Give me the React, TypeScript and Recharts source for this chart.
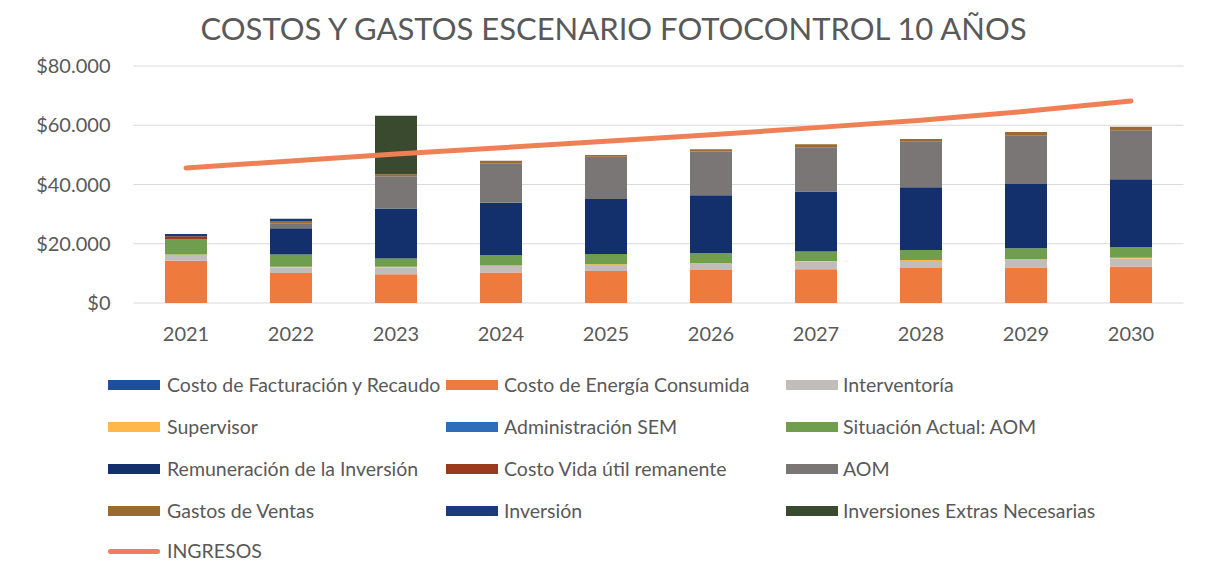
import React from 'react';
import { ComposedChart, Bar, Line, XAxis, YAxis, CartesianGrid, Legend } from 'recharts';

const years = ['2021', '2022', '2023', '2024', '2025', '2026', '2027', '2028', '2029', '2030'];
const costoFacturacion = [0, 0, 0, 0, 0, 0, 0, 0, 0, 0];
const costoEnergia = [14300, 10100, 9700, 10300, 10800, 11100, 11400, 11800, 12000, 12300];
const interventoria = [1900, 1900, 2300, 2200, 2000, 2100, 2500, 2400, 2500, 2700];
const supervisor = [200, 200, 200, 200, 300, 300, 300, 300, 300, 300];
const administracionSEM = [0, 0, 0, 0, 0, 0, 0, 0, 0, 0];
const situacionActual = [5000, 4200, 2800, 3400, 3400, 3400, 3200, 3400, 3700, 3600];
const remuneracion = [0, 8800, 16900, 17700, 18600, 19500, 20200, 21200, 21700, 22900];
const costoVidaUtil = [1100, 0, 0, 0, 0, 0, 0, 0, 0, 0];
const aom = [0, 1700, 10900, 13400, 14300, 14700, 15000, 15300, 16400, 16500];
const gastosVentas = [0, 800, 700, 800, 600, 800, 1000, 1000, 1100, 1200];
const inversion = [800, 700, 0, 0, 0, 0, 0, 0, 0, 0];
const inversionesExtras = [0, 0, 19700, 0, 0, 0, 0, 0, 0, 0];
const ingresos = [45600, 47900, 50300, 52400, 54600, 56800, 59200, 61700, 64700, 68200];
const yTicks = [0, 20000, 40000, 60000, 80000];

const barSeries = [
  { key: 'costoFacturacion', name: 'Costo de Facturación y Recaudo', color: '#1F4E9E', values: costoFacturacion },
  { key: 'costoEnergia', name: 'Costo de Energía Consumida', color: '#EE7A3E', values: costoEnergia },
  { key: 'interventoria', name: 'Interventoría', color: '#C2BDBD', values: interventoria },
  { key: 'supervisor', name: 'Supervisor', color: '#FDB849', values: supervisor },
  { key: 'administracionSEM', name: 'Administración SEM', color: '#2E6DB8', values: administracionSEM },
  { key: 'situacionActual', name: 'Situación Actual: AOM', color: '#6E9E4E', values: situacionActual },
  { key: 'remuneracion', name: 'Remuneración de la Inversión', color: '#14306C', values: remuneracion },
  { key: 'costoVidaUtil', name: 'Costo Vida útil remanente', color: '#9A3B1E', values: costoVidaUtil },
  { key: 'aom', name: 'AOM', color: '#7A7676', values: aom },
  { key: 'gastosVentas', name: 'Gastos de Ventas', color: '#9C6A30', values: gastosVentas },
  { key: 'inversion', name: 'Inversión', color: '#1B3A7A', values: inversion },
  { key: 'inversionesExtras', name: 'Inversiones Extras Necesarias', color: '#3A4A2E', values: inversionesExtras },
];
const lineColor = '#EF8056';

const data = years.map((year, i) => {
  const row: Record<string, number | string> = { year, ingresos: ingresos[i] };
  barSeries.forEach((s) => {
    row[s.key] = s.values[i];
  });
  return row;
});

const FONT = 'Lato, "Noto Sans", sans-serif';
const TEXT = '#595959';

const fmt = (v: number) => '$' + v.toLocaleString('de-DE');

const legendItems = [
  ...barSeries.map((s) => ({ name: s.name, color: s.color, line: false })),
  { name: 'INGRESOS', color: lineColor, line: true },
];
const colSwatch = [100, 438, 778];
const colText = [159, 496, 835];
const rowY = [17, 59, 101, 143, 183];

const renderLegend = () => (
  <div style={{ position: 'relative', width: 1193, height: 200, fontFamily: FONT }}>
    {legendItems.map((it, i) => {
      const r = Math.floor(i / 3);
      const c = i % 3;
      return (
        <React.Fragment key={it.name}>
          <div
            style={{
              position: 'absolute',
              left: colSwatch[c],
              top: rowY[r] - (it.line ? 2.5 : 5),
              width: 52,
              height: it.line ? 5 : 10,
              background: it.color,
              borderRadius: it.line ? 3 : 0,
            }}
          />
          <div
            style={{
              position: 'absolute',
              left: colText[c],
              top: rowY[r] - 12,
              fontSize: 19.5,
              lineHeight: '24px',
              color: TEXT,
              whiteSpace: 'nowrap',
            }}
          >
            {it.name}
          </div>
        </React.Fragment>
      );
    })}
  </div>
);

export default function App() {
  return (
    <div style={{ position: 'relative', width: 1193, height: 565, background: '#fff' }}>
      <div
        style={{
          position: 'absolute',
          left: 0,
          top: 0,
          width: 1211,
          textAlign: 'center',
          fontFamily: FONT,
          fontSize: 31,
          lineHeight: '40px',
          color: TEXT,
          whiteSpace: 'nowrap',
        }}
      >
        COSTOS Y GASTOS ESCENARIO FOTOCONTROL 10 AÑOS
      </div>
      <ComposedChart
        width={1193}
        height={565}
        data={data}
        margin={{ top: 58, right: 17.5, bottom: 240, left: 0 }}
        barCategoryGap="30%"
      >
        <CartesianGrid horizontal vertical={false} stroke="#D9D9D9" strokeWidth={1} />
        <XAxis
          dataKey="year"
          axisLine={false}
          tickLine={false}
          tickSize={0}
          tickMargin={24}
          height={30}
          tick={{ fill: TEXT, fontSize: 20, fontFamily: FONT }}
        />
        <YAxis
          width={125.5}
          domain={[0, 80000]}
          ticks={yTicks}
          axisLine={false}
          tickLine={false}
          tickSize={0}
          tickMargin={23}
          tickFormatter={fmt}
          tick={{ fill: TEXT, fontSize: 20, fontFamily: FONT }}
          interval={0}
        />
        {barSeries.map((s) => (
          <Bar
            key={s.key}
            dataKey={s.key}
            name={s.name}
            stackId="costos"
            fill={s.color}
            isAnimationActive={false}
          />
        ))}
        <Line
          dataKey="ingresos"
          name="INGRESOS"
          type="linear"
          stroke={lineColor}
          strokeWidth={5}
          strokeLinecap="round"
          dot={false}
          activeDot={false}
          isAnimationActive={false}
        />
        <Legend
          layout="horizontal"
          verticalAlign="middle"
          content={renderLegend}
          wrapperStyle={{ left: 0, top: 360, width: 1193, height: 200 }}
        />
      </ComposedChart>
    </div>
  );
}
